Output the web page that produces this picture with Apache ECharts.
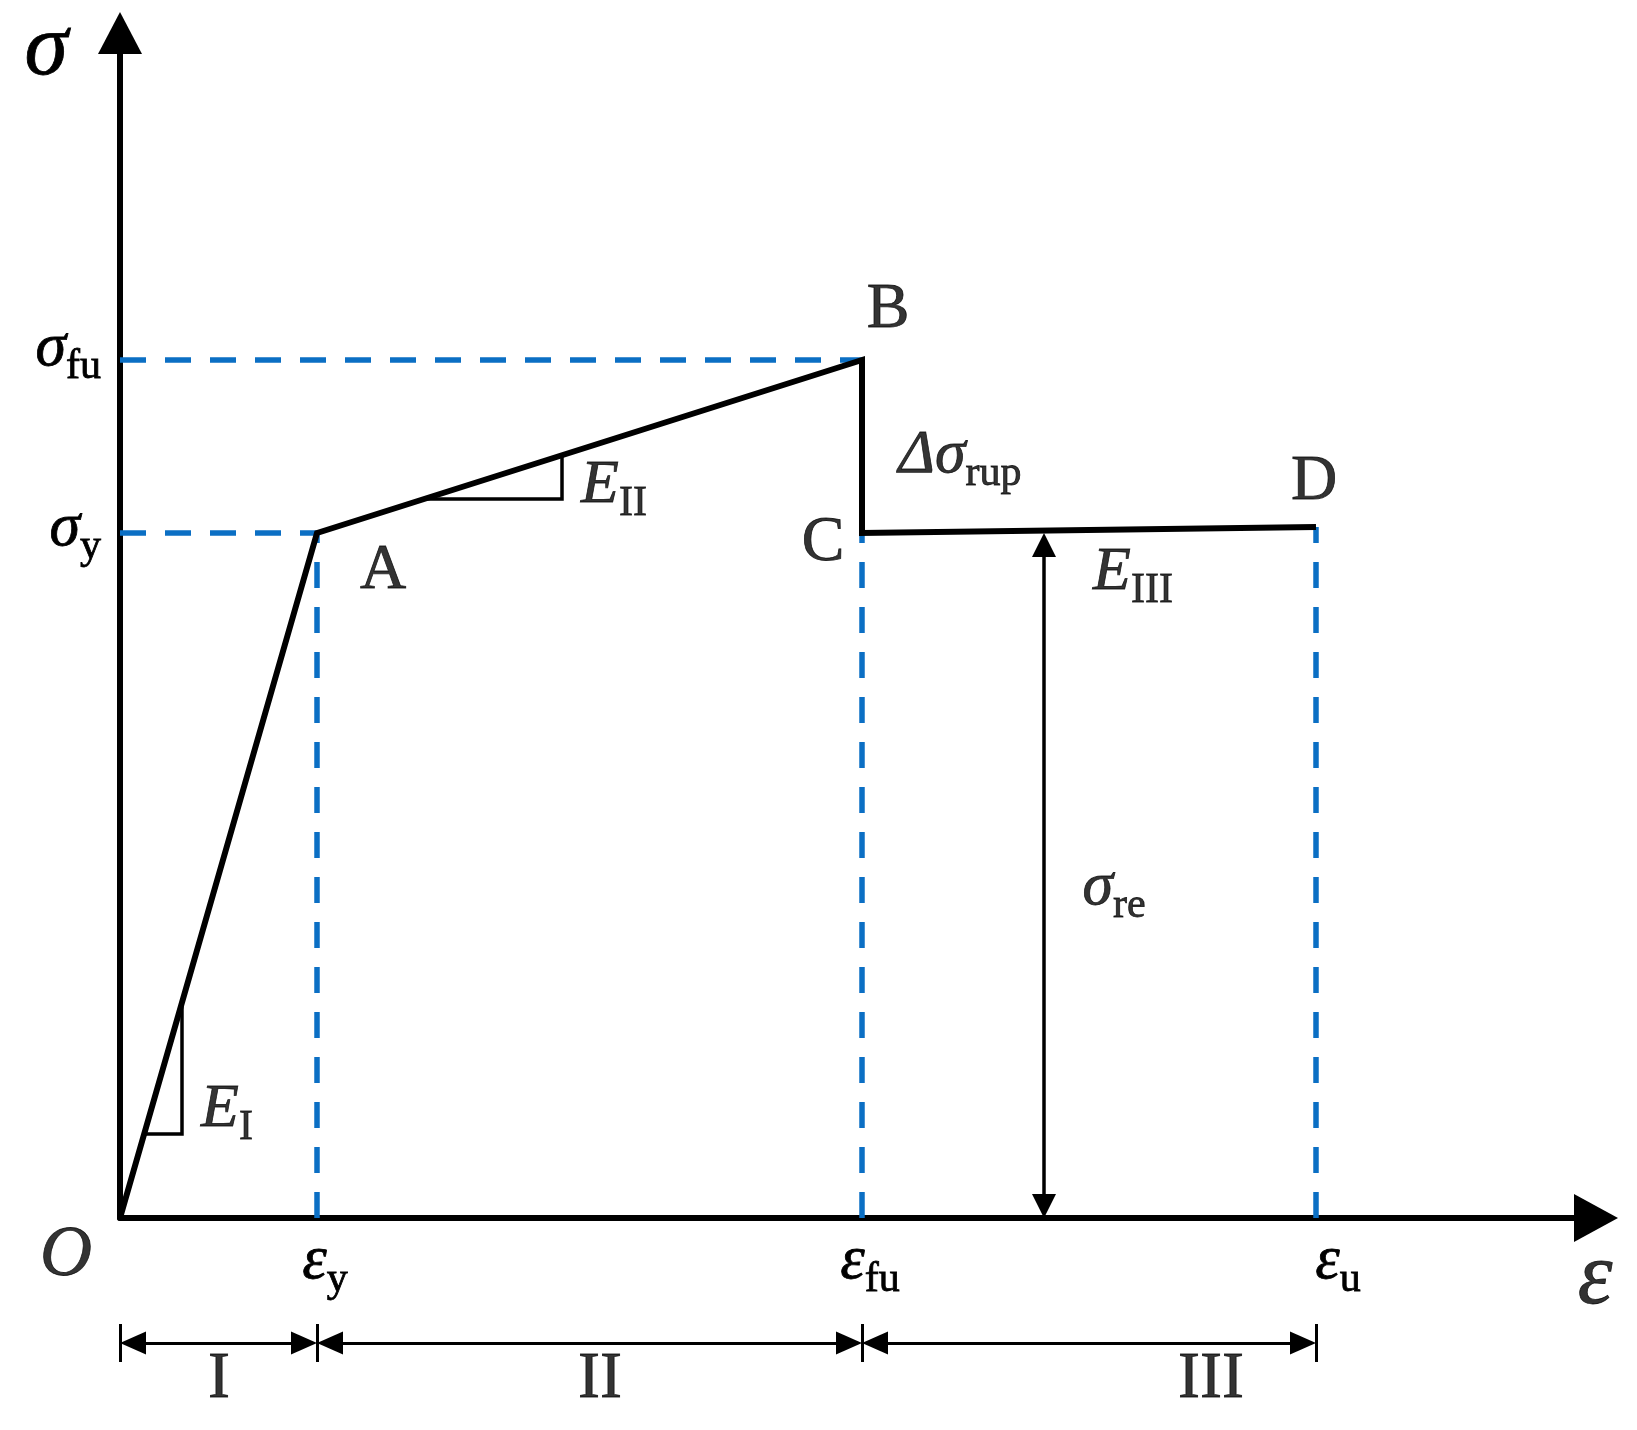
<!DOCTYPE html>
<html><head><meta charset="utf-8">
<script src="https://cdn.jsdelivr.net/npm/echarts@6/dist/echarts.min.js"></script>
<style>html,body{margin:0;padding:0;background:#fff}#c{width:1637px;height:1430px}</style>
</head><body><div id="c"></div>
<script>
// ---- data (strain ε on x, stress σ on y, arbitrary schematic units) ----
const strainKeys = [19.7, 74.2, 119.6];          // εy, εfu, εu
const strainNames = ['y', 'fu', 'u'];
const stressKeys = [68.5, 85.8];                  // σy, σfu
const stressNames = ['y', 'fu'];
const curveStrain = [0, 19.7, 74.2, 74.2, 119.6]; // O, A, B, C, D
const curveStress = [0, 68.5, 85.8, 68.5, 69.1];
const triIStrain = [2.3, 6.2, 6.2];               // slope mark E_I
const triIStress = [8.4, 8.4, 21.6];
const triIIStrain = [30.4, 44.2, 44.2];           // slope mark E_II
const triIIStress = [71.9, 71.9, 76.3];
const reStrain = 92.4;                            // σre dimension arrow
const reStress = [0, 68.5];
const regionBounds = [0, 19.7, 74.2, 119.6];
const regionNames = ['I', 'II', 'III'];
const regionLabelX = [9.9, 48.0, 109.1];
const noteMain = ['A', 'B', 'C', 'D', 'O', 'E', 'E', 'E', 'Δσ', 'σ', 'ε'];
const noteSub = ['', '', '', '', '', 'I', 'II', 'III', 'rup', 're', ''];
const noteX = [26.3, 76.8, 70.3, 119.4, -5.4, 10.7, 49.4, 101.3, 84.0, 99.4, 147.5];
const noteY = [64.7, 90.8, 67.5, 73.6, -3.8, 10.4, 72.8, 64.1, 75.8, 32.6, -6.2];

// ---- styling ----
const FONT = '"Liberation Serif","Times New Roman",Times,serif';
const BLUE = '#0b6fc4';
const INK = {color: '#000', textBorderColor: '#000', textBorderWidth: 0.8};
function tok(o) { return Object.assign({fontFamily: FONT}, INK, o); }
const rich = {
  it: tok({fontStyle: 'italic', fontSize: 62, verticalAlign: 'bottom', padding: [0, 0, 8, 0]}),
  sub: tok({fontSize: 42, verticalAlign: 'bottom'}),
  itR: tok({fontStyle: 'italic', fontSize: 62, verticalAlign: 'bottom', padding: [0, 0, 8, 28]}),
  itU: tok({fontStyle: 'italic', fontSize: 62, verticalAlign: 'bottom', padding: [0, 0, 22, 0]}),
  subU: tok({fontSize: 42, verticalAlign: 'bottom', padding: [0, 0, 14, 0]}),
  up: tok({fontSize: 64}),
  ito: tok({fontStyle: 'italic', fontSize: 72}),
  big: tok({fontStyle: 'italic', fontSize: 88}),
  rg: tok({fontSize: 66})
};
// per-label token variants (nudges that follow the reference's hand placement)
const strainLabelTok = ['it', 'it', 'itR'];
const stressLabelTok = [['it', 'sub'], ['itU', 'subU']];
const uprightNotes = ['A', 'B', 'C', 'D'];
function lab(main, sub, italic) {
  return '{' + (italic ? 'it' : 'up') + '|' + main + '}' + (sub ? '{sub|' + sub + '}' : '');
}
function noteLabel(m, s) {
  if (uprightNotes.indexOf(m) >= 0) return '{up|' + m + '}';
  if (m === 'O') return '{ito|O}';
  if (m === 'ε') return '{big|ε}';
  return lab(m, s, true);
}
function nearest(arr, v) {
  let b = 0;
  arr.forEach((a, i) => { if (Math.abs(a - v) < Math.abs(arr[b] - v)) b = i; });
  return b;
}
// arrowheads are centred on the line end; pull ends in by half an arrow length (data units, 10 px each)
const H_INSET = 1.3, V_INSET = 1.2;

const series = [];
// blue dashed guide lines
const guides = [
  [[0, stressKeys[0]], [strainKeys[0], stressKeys[0]]],
  [[0, stressKeys[1]], [strainKeys[1], stressKeys[1]]],
  [[strainKeys[0], 0], [strainKeys[0], curveStress[1]]],
  [[strainKeys[1], 0], [strainKeys[1], curveStress[3]]],
  [[strainKeys[2], 0], [strainKeys[2], curveStress[4]]]
];
guides.forEach(g => series.push({
  type: 'line', data: g, symbol: 'none', silent: true, animation: false, z: 1,
  lineStyle: {color: BLUE, width: 5.5, type: [26, 19], cap: 'butt'}
}));
// main curve + σre dimension arrow
series.push({
  type: 'line', data: curveStrain.map((x, i) => [x, curveStress[i]]), symbol: 'none',
  silent: true, animation: false, z: 3,
  lineStyle: {color: '#000', width: 6, join: 'miter', cap: 'butt'},
  markLine: {
    silent: true, animation: false, symbol: ['triangle', 'triangle'], symbolSize: [24, 24],
    label: {show: false}, emphasis: {disabled: true},
    lineStyle: {color: '#000', width: 3.5, type: 'solid'},
    data: [[{coord: [reStrain, reStress[0] + V_INSET]}, {coord: [reStrain, reStress[1] - V_INSET]}]]
  }
});
// slope triangles
[[triIStrain, triIStress], [triIIStrain, triIIStress]].forEach(t => series.push({
  type: 'line', data: t[0].map((x, i) => [x, t[1][i]]), symbol: 'none', silent: true, animation: false, z: 2,
  lineStyle: {color: '#000', width: 3.5, join: 'miter'}
}));
// text annotations
series.push({
  type: 'scatter', symbolSize: 0, clip: false, silent: true, animation: false, z: 5,
  data: noteMain.map((m, i) => [noteX[i], noteY[i], noteLabel(m, noteSub[i])]),
  label: {show: true, position: 'inside', color: '#000', formatter: p => p.data[2], rich: rich}
});
// region dimension lines (second grid)
series.push({
  type: 'line', xAxisIndex: 1, yAxisIndex: 1, data: [[0, 0]], symbol: 'none', silent: true, animation: false,
  lineStyle: {width: 0},
  markLine: {
    silent: true, animation: false, symbol: 'none', label: {show: false}, emphasis: {disabled: true},
    lineStyle: {color: '#000', width: 3, type: 'solid'},
    data: regionBounds.map(x => [{coord: [x, 21]}, {coord: [x, 59]}])
  }
});
series.push({
  type: 'line', xAxisIndex: 1, yAxisIndex: 1, data: [[0, 0]], symbol: 'none', silent: true, animation: false,
  lineStyle: {width: 0},
  markLine: {
    silent: true, animation: false, symbol: ['triangle', 'triangle'], symbolSize: [23, 26],
    label: {show: false}, emphasis: {disabled: true},
    lineStyle: {color: '#000', width: 3, type: 'solid'},
    data: regionNames.map((n, i) => [{coord: [regionBounds[i] + H_INSET, 40]}, {coord: [regionBounds[i + 1] - H_INSET, 40]}])
  }
});
series.push({
  type: 'scatter', xAxisIndex: 1, yAxisIndex: 1, symbolSize: 0, clip: false, silent: true, animation: false,
  data: regionNames.map((n, i) => [regionLabelX[i], 3, '{rg|' + n + '}']),
  label: {show: true, position: 'inside', color: '#000', formatter: p => p.data[2], rich: rich}
});

const option = {
  backgroundColor: '#fff',
  animation: false,
  grid: [
    {left: 120, top: 33, width: 1476, height: 1185, outerBoundsMode: 'none', containLabel: false},
    {left: 120, top: 1303, width: 1476, height: 80, outerBoundsMode: 'none', containLabel: false}
  ],
  xAxis: [{
    gridIndex: 0, type: 'value', min: 0, max: 147.6,
    axisLine: {show: true, onZero: false, symbol: ['none', 'triangle'], symbolSize: [48, 44], lineStyle: {color: '#000', width: 6}},
    axisTick: {show: false}, splitLine: {show: false},
    axisLabel: {
      show: true, customValues: strainKeys, margin: 13, padding: [0, 0, 0, 16],
      formatter: v => {
        const i = nearest(strainKeys, v);
        return '{' + strainLabelTok[i] + '|ε}{sub|' + strainNames[i] + '}';
      },
      rich: rich
    }
  }, {
    gridIndex: 1, type: 'value', min: 0, max: 147.6, show: false
  }],
  yAxis: [{
    gridIndex: 0, type: 'value', min: 0, max: 118.5,
    axisLine: {show: true, onZero: false, symbol: ['none', 'triangle'], symbolSize: [44, 42], lineStyle: {color: '#000', width: 6}},
    axisTick: {show: false}, splitLine: {show: false},
    axisLabel: {
      show: true, customValues: stressKeys, margin: 19,
      formatter: v => {
        const i = nearest(stressKeys, v);
        const t = stressLabelTok[i];
        return '{' + t[0] + '|σ}{' + t[1] + '|' + stressNames[i] + '}';
      },
      rich: rich
    },
    name: 'σ', nameLocation: 'end', nameGap: -18,
    nameTextStyle: {fontFamily: FONT, fontStyle: 'italic', fontSize: 88, color: '#000', textBorderColor: '#000', textBorderWidth: 0.8,
      align: 'right', verticalAlign: 'middle', padding: [0, 52, 0, 0]}
  }, {
    gridIndex: 1, type: 'value', min: 0, max: 80, show: false
  }],
  series: series
};
const chart = echarts.init(document.getElementById('c'), null, {renderer: 'canvas', width: 1637, height: 1430});
chart.setOption(option);
</script>
</body></html>
